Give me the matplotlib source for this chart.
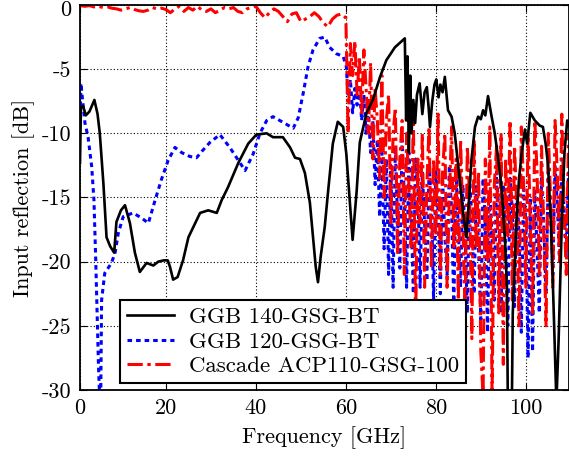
import numpy as np
import matplotlib
matplotlib.use("Agg")
import matplotlib.pyplot as plt
import matplotlib.transforms as mtransforms

plt.rcParams['font.family'] = ['cmr10', 'DejaVu Serif']
plt.rcParams['axes.unicode_minus'] = False
plt.rcParams['mathtext.fontset'] = 'cm'

# ---------------- data ----------------
black_f = [0.9, 1.1, 1.6, 2.2, 3.0, 4.1, 4.8, 5.3, 6.1, 6.8, 7.6, 8.5, 9.0, 10.0, 10.9, 12.0, 13.1,
           14.2, 15.7, 17.2, 18.3, 19.5, 20.4, 20.9, 21.6, 22.6, 23.8, 25.0, 26.1, 27.6, 29.4, 31.3,
           32.4, 33.8, 36.1, 38.3, 40.1, 42.4, 43.8, 46.0, 47.6, 48.7, 49.8, 50.9, 52.0, 52.7, 53.3,
           53.8, 54.4, 55.3, 56.0, 57.1, 58.2, 59.4, 60.1, 60.9, 61.5, 62.4, 63.1, 64.6, 66.0, 67.6,
           69.0, 70.9, 73.1, 73.4, 73.7, 74.0, 74.3, 74.6, 75.0, 75.4, 75.8, 76.4, 77.0, 77.5, 78.0,
           78.4, 78.7, 79.2, 79.7, 80.1, 80.6, 81.0, 81.5, 82.0, 82.7, 83.5, 84.2, 85.3, 86.0, 86.8,
           87.4, 87.9, 88.7, 89.4, 90.0, 90.5, 91.0, 91.6, 92.4, 93.1, 93.8, 94.6, 95.4, 95.8, 96.0,
           96.9, 97.1, 97.9, 98.5, 99.0, 99.8, 100.3, 101.0, 102.0, 103.1, 103.8, 104.4, 104.9,
           105.6, 106.3, 106.8, 107.3, 108.0, 108.6, 109.2, 109.8]
black_db = [-12.3, -8.0, -7.9, -8.6, -8.3, -7.4, -8.5, -10.0, -13.9, -18.1, -18.8, -19.3, -16.9, -16.0,
            -15.6, -17.0, -19.3, -20.8, -20.1, -20.3, -20.0, -19.9, -19.9, -20.4, -21.4, -21.2, -19.9,
            -18.1, -17.3, -16.2, -16.0, -16.2, -15.2, -14.2, -12.3, -10.8, -10.1, -10.0, -10.3, -10.3,
            -11.1, -11.9, -12.0, -13.1, -15.4, -18.1, -20.4, -21.6, -19.6, -17.3, -14.7, -10.8, -9.1,
            -9.5, -11.6, -15.4, -18.3, -14.5, -10.7, -8.4, -7.4, -5.6, -4.3, -3.3, -2.6, -9.0, -4.0,
            -11.5, -5.5, -10.0, -7.4, -9.2, -7.0, -6.1, -8.5, -6.8, -6.4, -8.0, -9.5, -7.5, -6.2,
            -5.8, -7.2, -6.2, -6.8, -5.6, -8.2, -8.7, -10.0, -13.6, -16.0, -18.1, -15.0, -12.1, -9.5,
            -8.7, -8.9, -8.2, -8.6, -7.1, -8.7, -10.0, -11.8, -14.2, -18.5, -22.0, -31.0, -31.0, -24.0,
            -17.0, -13.5, -11.8, -9.7, -10.8, -8.4, -9.0, -9.4, -9.5, -10.8, -12.3, -17.0, -25.0,
            -31.0, -26.0, -17.0, -11.5, -9.0, -9.5]

blue_f_low = [0.9, 1.1, 1.5, 2.0, 2.7, 3.5, 4.0, 4.4, 4.8, 5.0, 5.3, 5.5, 5.7, 6.4, 7.9, 8.7, 9.4, 10.5,
              12.7, 14.6, 16.1, 17.6, 19.0, 20.5, 22.0, 23.5, 25.3, 26.8, 28.0, 29.8, 32.0, 34.2, 36.1,
              37.6, 39.4, 40.9, 42.4, 43.8, 45.3, 46.8, 48.3, 49.4, 50.5, 51.6, 52.7, 54.2, 55.3, 56.4,
              57.9, 59.4, 60.1]
blue_db_low = [-9.2, -6.1, -7.5, -9.2, -10.3, -12.6, -15.2, -19.9, -25.3, -28.0, -31.0, -31.0, -23.0,
               -20.9, -20.1, -19.3, -17.8, -16.5, -16.2, -16.6, -17.0, -15.2, -13.6, -12.1, -11.1,
               -11.5, -11.8, -11.9, -11.4, -10.7, -10.1, -11.1, -12.1, -12.9, -11.6, -10.0, -9.0,
               -8.7, -9.0, -9.3, -9.6, -8.8, -6.9, -4.8, -3.5, -2.6, -2.5, -3.3, -3.8, -4.0, -4.8]
# 60.5 ... 109.5 GHz in 0.5 GHz steps
blue_db_high = [-7.1, -5.8, -8.4, -6.5, -7.8, -6.2, -9.0, -7.0, -10.0, -8.2,
                -11.5, -9.0, -14.0, -10.5, -16.5, -11.5, -19.0, -12.0, -21.0, -12.5,
                -22.0, -11.0, -17.0, -20.5, -10.5, -15.0, -22.0, -11.5, -16.0, -22.5,
                -12.0, -14.0, -22.0, -13.0, -17.0, -21.5, -12.5, -15.0, -23.0, -13.0,
                -16.0, -22.5, -13.5, -18.0, -21.0, -12.5, -16.0, -23.5, -13.0, -17.5,
                -22.0, -14.0, -18.0, -24.0, -13.5, -16.5, -22.5, -14.0, -19.0, -24.5,
                -13.5, -17.0, -25.5, -14.5, -18.0, -23.0, -13.0, -16.0, -24.0, -14.0,
                -19.0, -25.0, -13.5, -16.0, -23.5, -14.5, -18.0, -25.5, -14.0, -17.0,
                -27.5, -15.0, -27.0, -14.5, -19.0, -24.0, -13.5, -17.0, -22.5, -13.0,
                -16.0, -21.0, -12.5, -15.5, -20.0, -12.0, -16.0, -19.5, -13.0]

red_f_low = [0.9, 2, 3, 4, 5, 6, 7, 8, 9, 10, 11, 12, 13, 14, 15, 16, 17, 18, 19, 20, 21, 22, 23, 24,
             25, 26, 27, 28, 29, 30, 31, 32, 33, 34, 35, 36, 37, 38, 39, 40, 41, 42, 43, 44, 45, 46,
             47, 48, 49, 50, 51, 52, 53, 54, 55, 56, 57, 58, 59, 60]
red_db_low = [-0.05, -0.1, -0.05, -0.15, -0.1, -0.2, -0.15, -0.25, -0.3, -0.4, -0.3, -0.2, -0.35,
              -0.45, -0.5, -0.4, -0.2, -0.3, -0.25, -0.35, -0.6, -0.3, -0.1, -0.5, -0.2, -0.4, -0.1,
              -0.4, -0.5, -0.3, -0.6, -0.4, -0.2, -0.3, -0.2, -0.5, -0.6, -0.3, -0.2, -0.1, -0.6,
              -1.0, -0.6, -0.3, -0.5, -0.9, -1.3, -0.7, -0.6, -1.3, -1.1, -0.9, -0.6, -0.9, -1.4,
              -1.7, -1.1, -0.8, -0.7, -1.0]
red_db_high = [-10.0, -3.0, -5.5, -2.8, -7.0, -4.0, -8.5, -3.5, -6.5, -10.0,
               -4.5, -12.0, -6.5, -9.0, -13.5, -5.5, -15.0, -9.0, -7.0, -17.0,
               -10.0, -8.0, -19.5, -12.0, -9.0, -21.0, -10.0, -14.0, -19.0, -8.5,
               -25.0, -12.0, -17.0, -10.0, -22.0, -14.0, -9.5, -20.5, -12.0, -18.0,
               -8.5, -21.0, -13.0, -10.0, -22.0, -15.0, -9.5, -19.0, -12.0, -23.0,
               -10.5, -17.0, -24.0, -11.0, -15.0, -26.0, -10.5, -19.0, -13.0, -27.0,
               -30.5, -12.0, -20.0, -9.5, -30.5, -14.0, -11.0, -24.0, -10.0, -28.0,
               -12.0, -18.0, -9.0, -23.0, -11.0, -16.0, -25.0, -9.5, -14.0, -22.0,
               -10.0, -17.0, -24.0, -9.0, -13.0, -21.0, -11.0, -18.0, -25.0, -10.0,
               -15.0, -22.0, -9.0, -13.0, -20.0, -8.5, -16.0, -21.0, -10.0]

labels = ['GGB 140-GSG-BT', 'GGB 120-GSG-BT', 'Cascade ACP110-GSG-100']
xtick_labels = ['0', '20', '40', '60', '80', '100']
ytick_labels = ['-30', '-25', '-20', '-15', '-10', '-5', '0']

f_high = np.arange(60.5, 109.75, 0.5)
blue_f = np.concatenate([blue_f_low, f_high])
blue_db = np.concatenate([blue_db_low, blue_db_high])
red_f = np.concatenate([red_f_low, f_high])
red_db = np.concatenate([red_db_low, red_db_high])

# ---------------- figure ----------------
fig = plt.figure(figsize=(5.69, 4.61), dpi=100)
ax = fig.add_axes([80 / 569, 71 / 461, 489 / 569, 385 / 461])

ax.plot(black_f, black_db, color='black', lw=1.9, label=labels[0], zorder=3)
ax.plot(blue_f, blue_db, color='#0000ff', lw=2.2, ls=(0, (1.5, 1.3)), label=labels[1], zorder=2)
ax.plot(red_f, red_db, color='#ff0000', lw=2.2, ls=(0, (5, 1.5, 1.1, 1.5)), label=labels[2], zorder=2)

ax.set_xlim(0.9, 109.6)
ax.set_ylim(-30, 0)
ax.set_xticks([0.9, 20, 40, 60, 80, 100])
ax.set_xticklabels(xtick_labels)
ax.set_yticks([-30, -25, -20, -15, -10, -5, 0])
ax.set_yticklabels(ytick_labels)
ax.tick_params(direction='in', length=5, width=0.8, labelsize=16, pad=6, top=True, right=True)
ax.grid(True, color='black', ls=(0, (1, 2)), lw=0.8)
for s in ax.spines.values():
    s.set_linewidth(1.3)

# nudge the topmost y tick label down slightly so it stays inside the figure
top_lbl = ax.get_yticklabels()[-1]
top_lbl.set_transform(top_lbl.get_transform() +
                      mtransforms.ScaledTranslation(0, -3 / 100, fig.dpi_scale_trans))

ax.set_xlabel('Frequency [GHz]', fontsize=16, labelpad=6)
ax.set_ylabel('Input reflection [dB]', fontsize=16, labelpad=5)

leg = ax.legend(loc='lower left', bbox_to_anchor=(0.082, 0.018), fontsize=16.5, frameon=True,
                fancybox=False, edgecolor='black', framealpha=1, handlelength=2.05,
                borderpad=0.3, labelspacing=0.2, handletextpad=0.65, borderaxespad=0)
leg.get_frame().set_linewidth(1.5)
leg.set_zorder(5)

fig.savefig('out.png', dpi=100)
